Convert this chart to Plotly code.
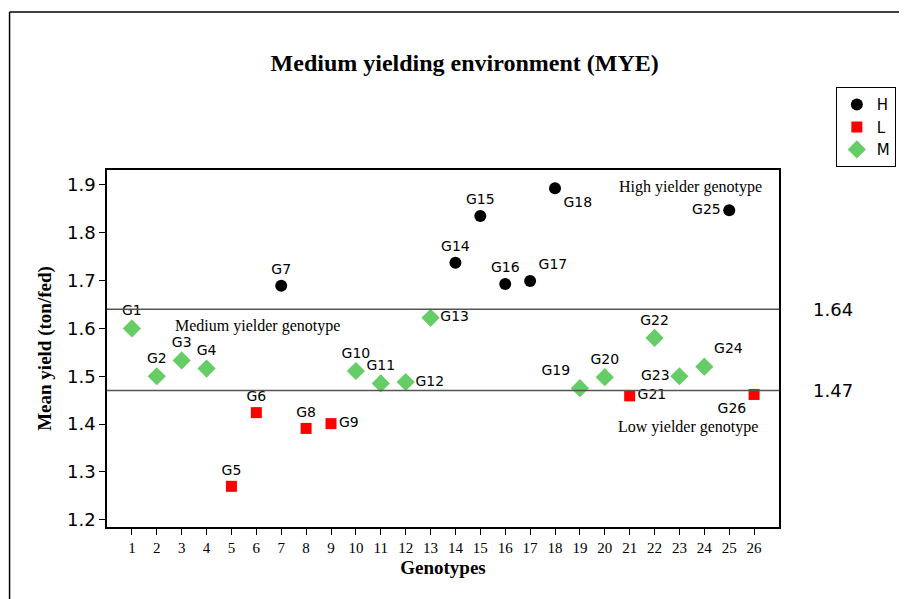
import plotly.graph_objects as go

genotypes = [f"G{i}" for i in range(1, 27)]
x_pos = list(range(1, 27))
mean_yield = [1.600, 1.500, 1.533, 1.516, 1.270, 1.424, 1.689, 1.391, 1.401, 1.511,
              1.485, 1.488, 1.622, 1.737, 1.835, 1.693, 1.699, 1.893, 1.475, 1.498,
              1.459, 1.580, 1.500, 1.520, 1.847, 1.462]
group = ["M", "M", "M", "M", "L", "L", "H", "L", "L", "M",
         "M", "M", "M", "H", "H", "H", "H", "H", "M", "M",
         "L", "M", "M", "M", "H", "L"]
label_pos = ["top center", "top center", "top center", "top center", "top center",
             "top center", "top center", "top center", "middle right", "top center",
             "top center", "middle right", "middle right", "top center", "top center",
             "top center", "top right", "bottom right", "top left", "top center",
             "middle right", "top center", "middle left", "top right", "middle left",
             "bottom left"]
upper_line = 1.64
lower_line = 1.47

styles = {
    "H": dict(color="black", symbol="circle", size=12),
    "L": dict(color="#ff0000", symbol="square", size=11),
    "M": dict(color="#66cc66", symbol="diamond", size=14),
}

fig = go.Figure()
for g in ["H", "L", "M"]:
    idx = [i for i, v in enumerate(group) if v == g]
    fig.add_trace(go.Scatter(
        x=[x_pos[i] for i in idx],
        y=[mean_yield[i] for i in idx],
        text=[genotypes[i] for i in idx],
        textposition=[label_pos[i] for i in idx],
        mode="markers+text",
        name=g,
        marker=dict(color=styles[g]["color"], symbol=styles[g]["symbol"],
                    size=styles[g]["size"], line=dict(width=0)),
        textfont=dict(family="DejaVu Sans", size=14, color="black"),
        cliponaxis=False,
    ))

for yv in (upper_line, lower_line):
    fig.add_shape(type="line", xref="paper", x0=0, x1=1, yref="y", y0=yv, y1=yv,
                  line=dict(color="#555555", width=1.5))
    fig.add_annotation(xref="paper", x=1.08, yref="y", y=yv, text=f"{yv:.2f}",
                       showarrow=False, xanchor="center",
                       font=dict(family="DejaVu Sans", size=18, color="black"))

serif = "Liberation Serif"
fig.add_annotation(x=6.06, y=1.604, text="Medium yielder genotype", showarrow=False,
                   font=dict(family=serif, size=16, color="black"))
fig.add_annotation(x=23.43, y=1.896, text="High yielder genotype", showarrow=False,
                   font=dict(family=serif, size=16, color="black"))
fig.add_annotation(x=23.36, y=1.393, text="Low yielder genotype", showarrow=False,
                   font=dict(family=serif, size=16, color="black"))

# outer frame (left and top edges)
fig.add_shape(type="line", xref="paper", yref="paper", x0=-0.145, x1=1.25, y0=1.4426, y1=1.4426,
              line=dict(color="black", width=1.5))
fig.add_shape(type="line", xref="paper", yref="paper", x0=-0.145, x1=-0.145, y0=1.4426, y1=-0.3,
              line=dict(color="black", width=1.5))

fig.update_layout(
    width=899, height=591,
    margin=dict(l=99, r=127, t=162, b=72),
    paper_bgcolor="white", plot_bgcolor="white",
    title=dict(text="<b>Medium yielding environment (MYE)</b>", x=0.508, xanchor="center",
               y=0.907, yanchor="middle",
               font=dict(family=serif, size=24, color="black")),
    showlegend=True,
    legend=dict(x=1.083, y=1.232, xanchor="left", yanchor="top",
                bordercolor="black", borderwidth=1, bgcolor="white",
                font=dict(family="DejaVu Sans", size=15, color="black"),
                itemwidth=30, tracegroupgap=0),
    xaxis=dict(range=[0, 27], tickmode="array", tickvals=x_pos,
               ticktext=[str(v) for v in x_pos], ticks="outside", ticklen=6,
               tickcolor="black", showgrid=False, zeroline=False,
               showline=True, linecolor="black", linewidth=1.5, mirror=True,
               tickfont=dict(family=serif, size=15, color="black"),
               title=dict(text="<b>Genotypes</b>", standoff=6,
                          font=dict(family=serif, size=19, color="black"))),
    yaxis=dict(range=[1.185, 1.931], tickvals=[1.2, 1.3, 1.4, 1.5, 1.6, 1.7, 1.8, 1.9],
               ticktext=["1.2", "1.3", "1.4", "1.5", "1.6", "1.7", "1.8", "1.9"],
               ticks="outside", ticklen=6, tickcolor="black",
               showgrid=False, zeroline=False,
               showline=True, linecolor="black", linewidth=1.5, mirror=True,
               tickfont=dict(family="DejaVu Sans", size=18, color="black"),
               title=dict(text="<b>Mean yield (ton/fed)</b>", standoff=10,
                          font=dict(family=serif, size=19, color="black"))),
)

fig.write_html("out.html")
